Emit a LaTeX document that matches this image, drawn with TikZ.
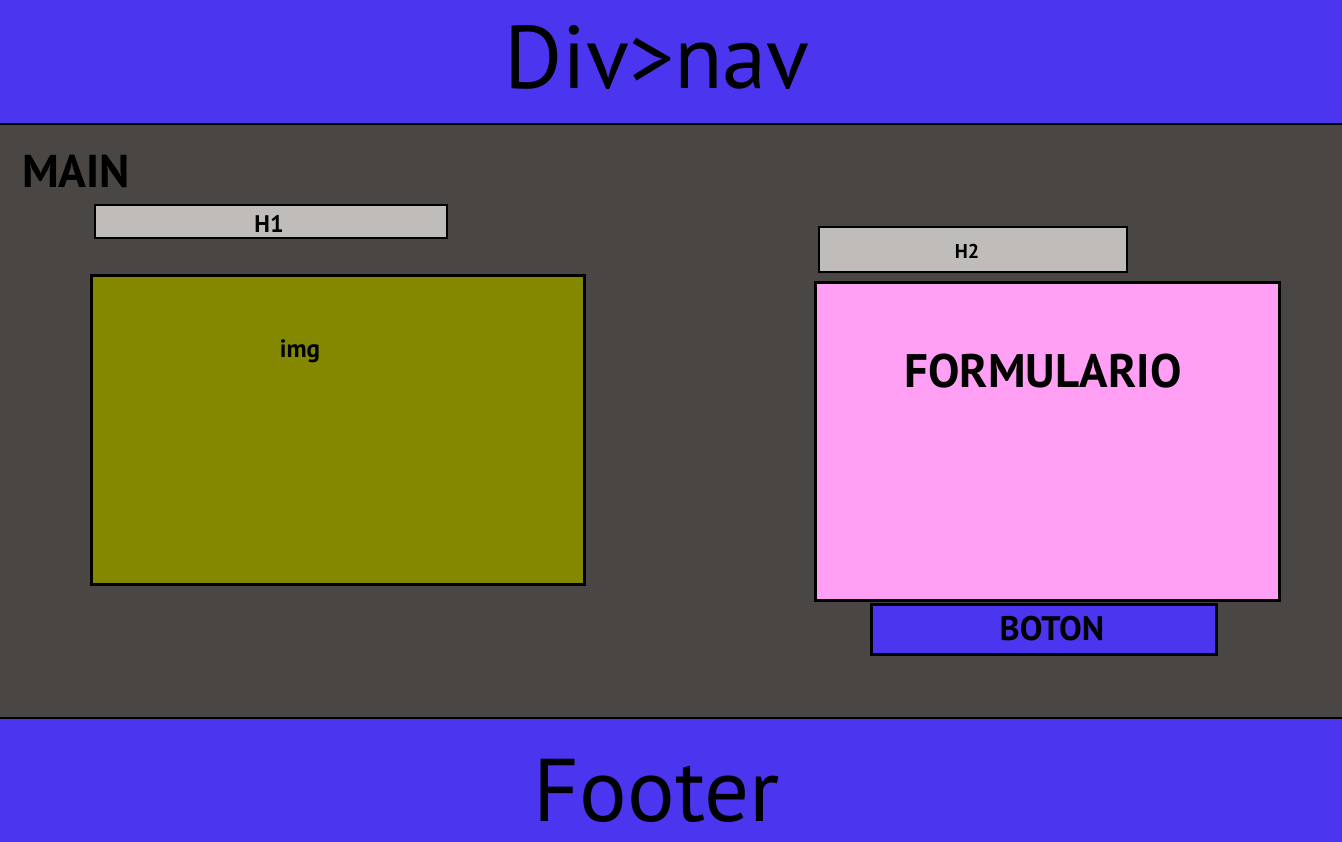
\documentclass[tikz,border=0pt]{standalone}
\usepackage{fontspec}
\setmainfont{PT Sans}
\definecolor{navblue}{HTML}{4B35EE}
\definecolor{maingray}{HTML}{4A4644}
\definecolor{hgray}{HTML}{C0BCB9}
\definecolor{olive}{HTML}{848800}
\definecolor{pinkf}{HTML}{FFA0F5}
\tikzset{
  box/.style={draw=black, line width=3pt, inner sep=0pt},
  hbox/.style={draw=black, line width=1.2pt},
  lbl/.style={font=\bfseries, text=black, inner sep=0pt},
}
\begin{document}
\begin{tikzpicture}[x=1pt,y=-1pt]
\useasboundingbox (0,0) rectangle (1342,842);
% bands
\fill[navblue] (0,0) rectangle (1342,124);
\fill[maingray] (0,124) rectangle (1342,718);
\fill[navblue] (0,718) rectangle (1342,842);
\draw[line width=2.5pt] (0,124) -- (1342,124);
\draw[line width=2.5pt] (0,718) -- (1342,718);
\node[inner sep=0pt, text depth=0pt, anchor=base, font=\fontsize{89}{90}\selectfont] (nav) at (657,89) {Div>nav};
\node[inner sep=0pt, text depth=0pt, anchor=base, font=\fontsize{89}{90}\selectfont] (footer) at (657,821) {Footer};
\node[lbl, anchor=west, font=\bfseries\fontsize{46}{48}\selectfont] (main) at (22,171) {MAIN};
% H1
\filldraw[fill=hgray, hbox] (95,205) rectangle (447,238);
\node[lbl, font=\bfseries\fontsize{24}{26}\selectfont] (h1) at (269,224) {H1};
% img
\filldraw[fill=olive, box] (91,276) rectangle (584,584);
\node[lbl, font=\bfseries\fontsize{25}{27}\selectfont] (img) at (300,351) {img};
% H2
\filldraw[fill=hgray, hbox] (819,227) rectangle (1127,272);
\node[lbl, font=\bfseries\fontsize{20}{22}\selectfont] (h2) at (967,251) {H2};
% formulario
\filldraw[fill=pinkf, box] (815,283) rectangle (1279,600);
\node[lbl, font=\bfseries\fontsize{47}{49}\selectfont] (form) at (1043,371) {FORMULARIO};
% boton
\filldraw[fill=navblue, box] (871,604) rectangle (1216,654);
\node[lbl, font=\bfseries\fontsize{34}{36}\selectfont] (boton) at (1052,629) {BOTON};
\end{tikzpicture}
\end{document}
